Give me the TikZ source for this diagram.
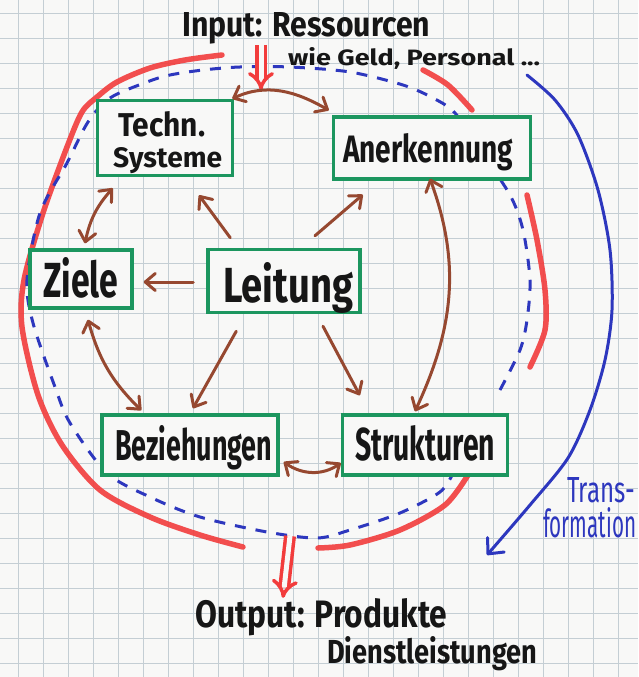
\documentclass[tikz,border=0pt]{standalone}
\usepackage{fontspec}
\setmainfont{Fira Sans}
\usepackage{graphicx}
\usetikzlibrary{arrows.meta,calc}
\definecolor{paper}{RGB}{248,248,247}
\definecolor{gridc}{RGB}{196,206,212}
\definecolor{boxgreen}{RGB}{28,150,95}
\definecolor{brownpen}{RGB}{150,72,48}
\definecolor{redpen}{RGB}{242,60,60}
\definecolor{bluepen}{RGB}{45,55,190}
\definecolor{inkc}{RGB}{22,22,22}
\newcommand\hw[3]{\resizebox{#1pt}{#2pt}{#3}}
\begin{document}
\begin{tikzpicture}[x=1pt,y=-1pt,
  box/.style={draw=boxgreen, fill=paper, line width=3.5pt, rectangle, inner sep=0pt},
  txt/.style={inner sep=0pt, anchor=base west, text=inkc, font=\bfseries},
  arr/.style={draw=brownpen, line width=3pt, line cap=round, -{Straight Barb[length=10pt,width=17pt,round]}},
  darr/.style={arr, {Straight Barb[length=10pt,width=17pt,round]}-{Straight Barb[length=10pt,width=17pt,round]}},
  redline/.style={draw=redpen, line width=5.5pt, line cap=round, opacity=0.9},
  dashblue/.style={draw=bluepen, line width=3pt, dash pattern=on 11pt off 10pt},
  redarrow/.style={draw=redpen, line width=3.5pt, double=paper, double distance=5pt, -{Implies[length=10pt]}},
]
\useasboundingbox (0,0) rectangle (638,677);
\clip (0,0) rectangle (638,677);
\fill[paper] (0,0) rectangle (638,677);
% grid paper
\foreach \k in {0,...,25} {
  \draw[gridc, line width=0.8pt] (18+25*\k-25,0) -- (18+25*\k-25,677);
}
\foreach \k in {0,...,27} {
  \draw[gridc, line width=0.8pt] (0,13+25*\k) -- (638,13+25*\k);
}

% red arcs
\draw[redline] plot[smooth] coordinates {(222,55) (185,60) (150,68) (117,82) (97,97) (82,112) (67,147) (43,213) (24,280) (22,327) (38,395) (62,445) (100,490) (150,517) (200,535) (243,547)};
\draw[redline] plot[smooth] coordinates {(423,70) (448,85) (472,110)};
\draw[redline] plot[smooth] coordinates {(527,195) (537,240) (545,290) (545,330) (530,367)};
\draw[redline] plot[smooth] coordinates {(468,475) (445,505) (400,530) (350,545) (318,548)};

% blue dashed loop
\draw[dashblue] plot[smooth] coordinates {(500,390) (520,350) (527,320) (530,280) (523,230) (510,195) (480,150) (455,113) (433,98) (403,85) (350,72) (290,67) (240,67) (203,70) (170,75) (147,82) (110,98) (88,122) (67,163) (40,213) (27,280) (33,323) (55,387) (70,423) (107,473) (150,497) (200,517) (267,532) (317,538) (350,530) (400,513) (440,492) (453,473)};

% boxes
\node[box, minimum width=135pt, minimum height=75pt] (tech) at (165,138) {};
\node[box, minimum width=197pt, minimum height=62pt] (aner) at (432,148) {};
\node[box, minimum width=102pt, minimum height=58pt] (ziele) at (81,279) {};
\node[box, minimum width=152pt, minimum height=63pt] (lei) at (284,281) {};
\node[box, minimum width=176pt, minimum height=60pt] (bez) at (190,445) {};
\node[box, minimum width=165pt, minimum height=60pt] (struk) at (425,445) {};

% texts
\node[txt] (inp) at (182,37) {\hw{248}{24}{Input: Ressourcen}};
\node[txt] (wie) at (288,65) {\hw{252}{18}{wie Geld, Personal ...}};
\node[txt] (techA) at (118,136) {\hw{87}{25}{Techn.}};
\node[txt] (techB) at (113,167) {\hw{109}{20}{Systeme}};
\node[txt] (anerT) at (343,162) {\hw{170}{29}{Anerkennung}};
\node[txt] (zieleT) at (43,297) {\hw{75}{40}{Ziele}};
\node[txt] (leiT) at (223,302) {\hw{130}{40}{Leitung}};
\node[txt] (bezT) at (115,460) {\hw{157}{35}{Beziehungen}};
\node[txt] (strT) at (355,460) {\hw{140}{35}{Strukturen}};
\node[txt] (outA) at (195,627) {\hw{252}{29}{Output: Produkte}};
\node[txt] (outB) at (327,663) {\hw{210}{27}{Dienstleistungen}};
\node[txt, text=bluepen, font=\mdseries] (trA) at (567,502) {\hw{68}{25}{Trans-}};
\node[txt, text=bluepen, font=\mdseries] (trB) at (543,537) {\hw{93}{30}{formation}};

% input / output arrows
\coordinate (inTip) at (261,90);
\draw[redarrow] (inTip |- inp.south) -- (inTip);
\coordinate (outTop) at (290,536);
\draw[redarrow] (outTop) -- ([xshift=88pt]outA.north west);

% transformation arrow
\coordinate (trStart) at (527,75);
\coordinate (trEnd) at (487,555);
\draw[draw=bluepen, line width=3pt, line cap=round, -{Straight Barb[length=12pt,width=22pt,round]}] plot[smooth] coordinates {(trStart) (555,100) (578,135) (598,190) (610,250) (612,310) (605,360) (590,410) (568,458) (530,505) (trEnd)};

% brown arrows from Leitung
\draw[arr] ([xshift=24pt,yshift=10pt]lei.north west) -- ([xshift=34pt,yshift=-18pt]tech.south);
\draw[arr] ([xshift=31pt,yshift=12pt]lei.north) -- ([xshift=31pt,yshift=-14pt]aner.south west);
\draw[arr] ([xshift=-13pt,yshift=-1pt]lei.west) -- ([xshift=10pt,yshift=-3pt]ziele.east);
\draw[arr] ([xshift=30pt,yshift=-17pt]lei.south west) -- ([xshift=3pt,yshift=5pt]bez.north);
\draw[arr] ([xshift=39pt,yshift=-12pt]lei.south) -- ([xshift=19pt,yshift=18pt]struk.north west);

% double-headed arrows around
\draw[darr] ([xshift=17pt,yshift=-11pt]tech.south west) to[bend right=15] ([xshift=4pt,yshift=5pt]ziele.north);
\draw[darr] ([xshift=7pt,yshift=-10pt]ziele.south) to[bend right=15] ([xshift=41pt,yshift=3pt]bez.north west);
\draw[darr] ([xshift=-2pt,yshift=2pt]aner.south) to[out=-70,in=65] ([xshift=-10pt,yshift=2pt]struk.north);
\draw[darr] ([xshift=4pt,yshift=-17pt]bez.east) to[out=-35,in=-145] ([xshift=0pt,yshift=-18pt]struk.west);
\draw[darr] ([xshift=-2pt,yshift=0pt]tech.north east) to[out=25,in=150] ([xshift=-3pt,yshift=5pt]aner.north west);
\end{tikzpicture}
\end{document}
